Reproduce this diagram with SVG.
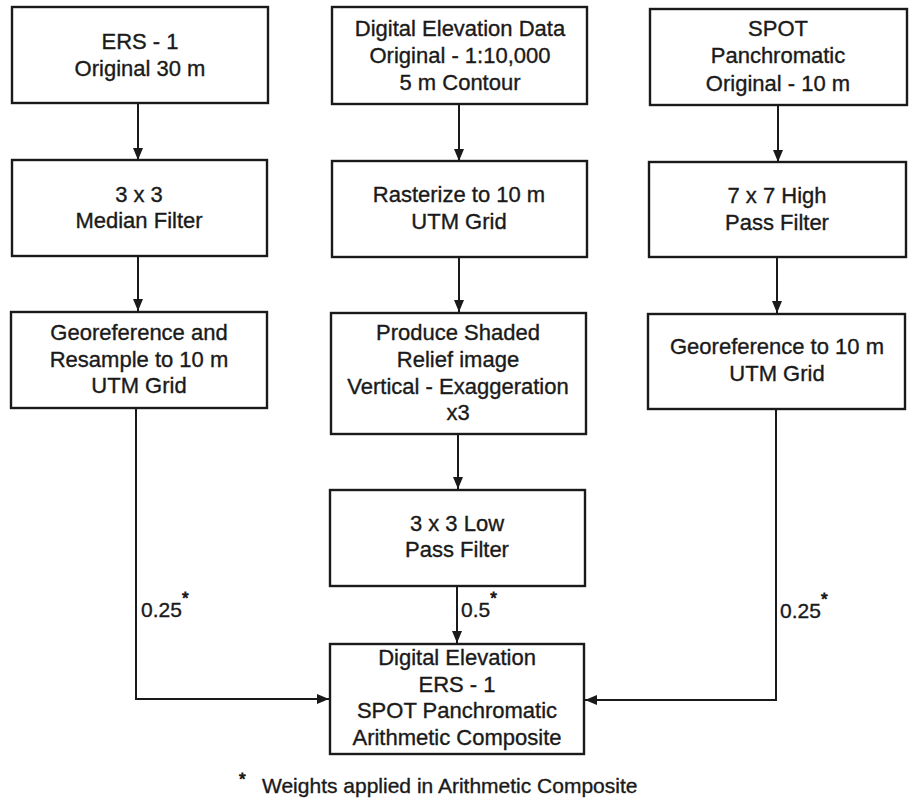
<svg xmlns="http://www.w3.org/2000/svg" width="912" height="801" viewBox="0 0 912 801">
<style>
.box{fill:#fff;stroke:#1a1a1a;stroke-width:2.4}
.t{font-family:"Liberation Sans",Arial,Helvetica,sans-serif;font-size:22px;fill:#1a1a1a;stroke:#1a1a1a;stroke-width:0.35;text-anchor:middle}
.lbl{font-family:"Liberation Sans",Arial,Helvetica,sans-serif;font-size:21px;fill:#1a1a1a;stroke:#1a1a1a;stroke-width:0.35}
.sup{font-size:17px;stroke-width:0.8}
.c{fill:none;stroke:#1a1a1a;stroke-width:2}
</style>
<defs>
<marker id="ah" markerUnits="userSpaceOnUse" markerWidth="12" markerHeight="10" refX="12" refY="5" orient="auto">
<path d="M0,0 L12,5 L0,10 z" fill="#1a1a1a"/>
</marker>
</defs>
<rect width="912" height="801" fill="#fff"/>
<g id="connectors">
<line class="c" x1="138" y1="103" x2="138" y2="160" marker-end="url(#ah)"/>
<line class="c" x1="459" y1="104" x2="459" y2="161" marker-end="url(#ah)"/>
<line class="c" x1="778" y1="105" x2="778" y2="162" marker-end="url(#ah)"/>
<line class="c" x1="138" y1="256" x2="138" y2="311" marker-end="url(#ah)"/>
<line class="c" x1="459" y1="257" x2="459" y2="312" marker-end="url(#ah)"/>
<line class="c" x1="777" y1="257" x2="777" y2="313" marker-end="url(#ah)"/>
<line class="c" x1="458" y1="434" x2="458" y2="489" marker-end="url(#ah)"/>
<line class="c" x1="457" y1="586" x2="457" y2="643" marker-end="url(#ah)"/>
<polyline class="c" points="136,408 136,699 329,699" marker-end="url(#ah)"/>
<polyline class="c" points="776,409 776,700 585,700" marker-end="url(#ah)"/>
<text class="lbl" x="141" y="617">0.25<tspan class="sup" dy="-13">*</tspan></text>
<text class="lbl" x="461" y="617">0.5<tspan class="sup" dy="-13">*</tspan></text>
<text class="lbl" x="780" y="618">0.25<tspan class="sup" dy="-13">*</tspan></text>
</g>
<g id="n-ers">
<rect class="box" x="12" y="7" width="256" height="96"/>
<text class="t" x="140" y="49">ERS - 1</text>
<text class="t" x="140" y="76">Original 30 m</text>
</g>
<g id="n-dem">
<rect class="box" x="332" y="7" width="255" height="97"/>
<text class="t" x="460" y="36">Digital Elevation Data</text>
<text class="t" x="460" y="63">Original - 1:10,000</text>
<text class="t" x="460" y="90">5 m Contour</text>
</g>
<g id="n-spot">
<rect class="box" x="650" y="9" width="257" height="96"/>
<text class="t" x="778" y="36">SPOT</text>
<text class="t" x="778" y="63">Panchromatic</text>
<text class="t" x="778" y="91">Original - 10 m</text>
</g>
<g id="n-median">
<rect class="box" x="12" y="160" width="255" height="96"/>
<text class="t" x="139" y="202">3 x 3</text>
<text class="t" x="139" y="228">Median Filter</text>
</g>
<g id="n-raster">
<rect class="box" x="332" y="161" width="255" height="96"/>
<text class="t" x="459" y="202">Rasterize to 10 m</text>
<text class="t" x="459" y="229">UTM Grid</text>
</g>
<g id="n-highpass">
<rect class="box" x="649" y="162" width="257" height="95"/>
<text class="t" x="777" y="203">7 x 7 High</text>
<text class="t" x="777" y="230">Pass Filter</text>
</g>
<g id="n-geo-ers">
<rect class="box" x="11" y="312" width="256" height="96"/>
<text class="t" x="139" y="340">Georeference and</text>
<text class="t" x="139" y="367">Resample to 10 m</text>
<text class="t" x="139" y="393">UTM Grid</text>
</g>
<g id="n-shaded">
<rect class="box" x="331" y="313" width="255" height="121"/>
<text class="t" x="458" y="340">Produce Shaded</text>
<text class="t" x="458" y="367">Relief image</text>
<text class="t" x="458" y="394">Vertical - Exaggeration</text>
<text class="t" x="458" y="420">x3</text>
</g>
<g id="n-geo-spot">
<rect class="box" x="648" y="314" width="257" height="95"/>
<text class="t" x="777" y="354">Georeference to 10 m</text>
<text class="t" x="777" y="381">UTM Grid</text>
</g>
<g id="n-lowpass">
<rect class="box" x="330" y="490" width="255" height="96"/>
<text class="t" x="457" y="531">3 x 3 Low</text>
<text class="t" x="457" y="557">Pass Filter</text>
</g>
<g id="n-composite">
<rect class="box" x="330" y="644" width="254" height="110"/>
<text class="t" x="457" y="665">Digital Elevation</text>
<text class="t" x="457" y="692">ERS - 1</text>
<text class="t" x="457" y="718">SPOT Panchromatic</text>
<text class="t" x="457" y="745">Arithmetic Composite</text>
</g>
<g id="footnote">
<text class="lbl" x="239" y="785" style="font-size:17px;stroke-width:0.8">*</text>
<text class="lbl" x="262" y="793" style="font-size:21px">Weights applied in Arithmetic Composite</text>
</g>
</svg>
